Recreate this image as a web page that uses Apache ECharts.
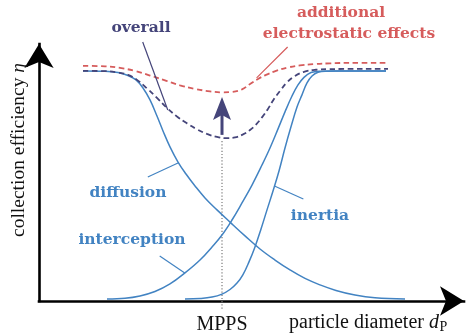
<!DOCTYPE html>
<html>
<head>
<meta charset="utf-8">
<script src="https://cdn.jsdelivr.net/npm/echarts@6/dist/echarts.min.js"></script>
<style>
  html, body { margin: 0; padding: 0; background: #fff; }
  #c { width: 476px; height: 336px; }
</style>
</head>
<body>
<div id="c"></div>
<script>
// Collection efficiency of a fibrous filter vs. particle diameter (schematic units).
// x: particle diameter (log-like, arbitrary units), y: collection efficiency (1 = full).
const diffusion = [
  [1.035, 1.000], [1.553, 0.999], [1.859, 0.993], [2.094, 0.980], [2.282, 0.961],
  [2.447, 0.926], [2.612, 0.874], [2.776, 0.804], [2.918, 0.739], [3.082, 0.670],
  [3.271, 0.604], [3.459, 0.552], [3.671, 0.500], [3.906, 0.448], [4.188, 0.396],
  [4.494, 0.343], [4.847, 0.283], [5.200, 0.226], [5.553, 0.178], [5.906, 0.135],
  [6.259, 0.098], [6.612, 0.070], [6.988, 0.046], [7.435, 0.026], [7.906, 0.014],
  [8.612, 0.009]
];
const interception = [
  [1.600, 0.009], [2.024, 0.012], [2.376, 0.022], [2.729, 0.041], [3.082, 0.074],
  [3.435, 0.122], [3.788, 0.178], [4.071, 0.235], [4.306, 0.287], [4.541, 0.352],
  [4.776, 0.426], [5.012, 0.504], [5.247, 0.591], [5.435, 0.665], [5.624, 0.748],
  [5.788, 0.822], [5.953, 0.891], [6.094, 0.939], [6.235, 0.972], [6.400, 0.993],
  [6.612, 0.999], [6.965, 1.000], [8.165, 1.000]
];
const inertia = [
  [3.435, 0.009], [3.788, 0.011], [4.071, 0.017], [4.306, 0.030], [4.494, 0.050],
  [4.659, 0.078], [4.800, 0.115], [4.941, 0.170], [5.082, 0.235], [5.224, 0.313],
  [5.365, 0.396], [5.506, 0.478], [5.647, 0.565], [5.788, 0.665], [5.929, 0.757],
  [6.071, 0.843], [6.188, 0.896], [6.306, 0.948], [6.424, 0.978], [6.565, 0.994],
  [6.753, 0.999], [7.082, 1.000], [8.165, 1.000]
];
const overall = [
  [1.035, 1.000], [1.553, 0.999], [1.859, 0.993], [2.094, 0.983], [2.306, 0.961],
  [2.541, 0.924], [2.776, 0.883], [3.012, 0.839], [3.247, 0.802], [3.482, 0.772],
  [3.718, 0.746], [3.953, 0.726], [4.188, 0.713], [4.400, 0.708], [4.612, 0.711],
  [4.800, 0.724], [4.965, 0.743], [5.106, 0.767], [5.247, 0.798], [5.388, 0.835],
  [5.529, 0.878], [5.671, 0.913], [5.835, 0.950], [6.024, 0.978], [6.235, 0.996],
  [6.518, 1.005], [6.847, 1.008], [8.212, 1.009]
];
const electrostatic = [
  [1.035, 1.022], [1.553, 1.020], [1.906, 1.013], [2.259, 1.000], [2.612, 0.980],
  [2.965, 0.959], [3.318, 0.937], [3.671, 0.922], [4.024, 0.911], [4.306, 0.907],
  [4.541, 0.909], [4.776, 0.920], [4.965, 0.943], [5.153, 0.965], [5.341, 0.983],
  [5.576, 1.000], [5.859, 1.015], [6.141, 1.024], [6.494, 1.030], [6.847, 1.033],
  [7.318, 1.035], [8.212, 1.035]
];
// Most penetrating particle size and the efficiency gain from electrostatics there
const mppsX = 4.306;
const gainFrom = 0.722;
const gainTo = 0.887;

const BLUE = '#4283c2';
const NAVY = '#45457a';
const RED = '#d65c5c';
const SERIF = '"Liberation Serif", "DejaVu Serif", serif';
const BOLD = 'bold 15.5px "DejaVu Serif", serif';
const AXIS_FONT = 20;

const chart = echarts.init(document.getElementById('c'), null, { renderer: 'canvas' });

function curve(name, data, color, dashed, z) {
  return {
    name, type: 'line', data, smooth: 0.4, symbol: 'none', z,
    lineStyle: dashed
      ? { color, width: 1.8, type: [5.5, 3.5] }
      : { color, width: 1.5 },
    emphasis: { disabled: true },
    animation: false
  };
}

const axisLine = {
  show: true,
  symbol: ['none', 'arrow'],
  symbolSize: [22, 24],
  lineStyle: { color: '#000', width: 2.6, cap: 'square' }
};

chart.setOption({
  animation: false,
  grid: { left: 39, right: 12, top: 44, bottom: 35 },
  xAxis: {
    type: 'value', min: 0, max: 10,
    axisLine, axisTick: { show: false }, axisLabel: { show: false }, splitLine: { show: false }
  },
  yAxis: {
    type: 'value', min: 0, max: 1.117,
    axisLine, axisTick: { show: false }, axisLabel: { show: false }, splitLine: { show: false }
  },
  series: [
    curve('diffusion', diffusion, BLUE, false, 2),
    curve('interception', interception, BLUE, false, 2),
    curve('inertia', inertia, BLUE, false, 2),
    curve('electrostatic', electrostatic, RED, true, 3),
    curve('overall', overall, NAVY, true, 4)
  ]
});

const toPx = p => chart.convertToPixel({ gridIndex: 0 }, p);

function leader(a, b, color) {
  const p = toPx(a), q = toPx(b);
  return {
    type: 'line', z: 20,
    shape: { x1: p[0], y1: p[1], x2: q[0], y2: q[1] },
    style: { stroke: color, lineWidth: 1.2 }
  };
}
function text(str, x, y, color, font, align) {
  const a = align || 'center';
  return {
    type: 'text', x, y, z: 20,
    style: {
      text: str, fill: color, font,
      align: a, verticalAlign: 'middle',
      textAlign: a, textVerticalAlign: 'middle'
    }
  };
}

// Marker for the MPPS: dotted drop line and arrow showing the electrostatic gain
const dropTop = toPx([mppsX, 0.695]);
const dropBot = toPx([mppsX, -0.04]);
const arrowBase = toPx([mppsX, gainFrom]);
const arrowTip = toPx([mppsX, gainTo]);
const ax = arrowTip[0], ty = arrowTip[1];

// x-axis title with an italic d and a subscript P
const mctx = document.createElement('canvas').getContext('2d');
mctx.font = AXIS_FONT + 'px ' + SERIF;
const wMain = mctx.measureText('particle diameter ').width;
mctx.font = 'italic ' + AXIS_FONT + 'px ' + SERIF;
const wD = mctx.measureText('d').width;
const xTitleLeft = 289;
const xTitleMid = 323;

chart.setOption({
  graphic: [
    {
      type: 'line', z: 1,
      shape: { x1: dropTop[0], y1: dropTop[1], x2: dropBot[0], y2: dropBot[1] },
      style: { stroke: '#7a7a7a', lineWidth: 1.2, lineDash: [1.2, 2] }
    },
    {
      type: 'line', z: 21,
      shape: { x1: ax, y1: arrowBase[1], x2: ax, y2: ty + 17 },
      style: { stroke: NAVY, lineWidth: 3 }
    },
    {
      type: 'polygon', z: 21,
      shape: { points: [[ax, ty], [ax + 9, ty + 23], [ax, ty + 18], [ax - 9, ty + 23]] },
      style: { fill: NAVY }
    },

    // Curve labels and their leader lines
    text('overall', 141, 28, NAVY, BOLD),
    leader([2.44, 1.126], [3.03, 0.830], NAVY),
    text('additional', 341, 13, RED, BOLD),
    text('electrostatic effects', 349, 34, RED, BOLD),
    leader([5.85, 1.104], [5.12, 0.970], RED),
    text('diffusion', 128, 193, BLUE, BOLD),
    leader([2.56, 0.539], [3.27, 0.600], BLUE),
    text('interception', 132, 240, BLUE, BOLD),
    leader([2.84, 0.196], [3.43, 0.122], BLUE),
    text('inertia', 320, 216, BLUE, BOLD),
    leader([6.22, 0.443], [5.54, 0.500], BLUE),

    // Axis annotations
    text('MPPS', dropBot[0], 325, '#111', AXIS_FONT + 'px ' + SERIF),
    text('particle diameter ', xTitleLeft, xTitleMid, '#111', AXIS_FONT + 'px ' + SERIF, 'left'),
    text('d', xTitleLeft + wMain, xTitleMid, '#111', 'italic ' + AXIS_FONT + 'px ' + SERIF, 'left'),
    text('P', xTitleLeft + wMain + wD + 0.5, xTitleMid + 4, '#111', '14px ' + SERIF, 'left'),
    {
      type: 'text', x: 19, y: 150, rotation: Math.PI / 2, z: 20,
      style: {
        text: '{a|collection efficiency }{b|η}',
        align: 'center', verticalAlign: 'middle', textAlign: 'center', textVerticalAlign: 'middle',
        rich: {
          a: { fill: '#111', fontFamily: SERIF, fontSize: 19.5 },
          b: { fill: '#111', fontFamily: SERIF, fontSize: 19.5, fontStyle: 'italic' }
        }
      }
    }
  ]
});
</script>
</body>
</html>
